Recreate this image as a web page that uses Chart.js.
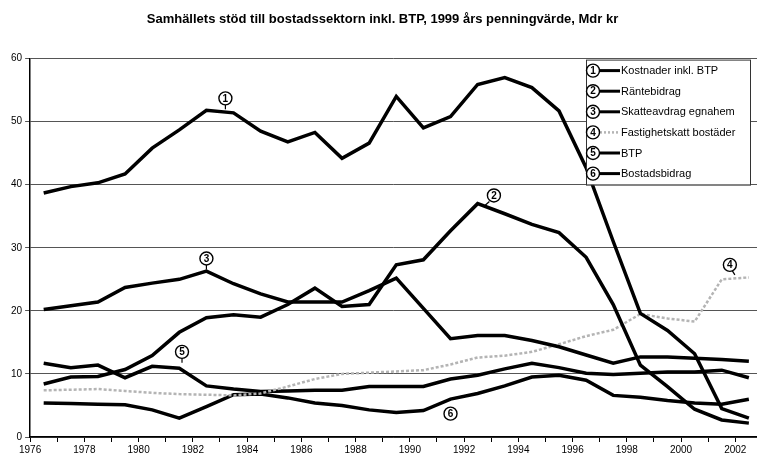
<!DOCTYPE html>
<html>
<head>
<meta charset="utf-8">
<script src="https://cdn.jsdelivr.net/npm/chart.js@4.4.1/dist/chart.umd.min.js"></script>
<style>
    html, body { margin: 0; padding: 0; background: #fff; }
    #wrap { width: 757px; height: 468px; }
</style>
</head>
<body>
<div id="wrap"><canvas id="chart" width="757" height="468"></canvas></div>
<script>
// Samhällets stöd till bostadssektorn
const years = [1976, 1977, 1978, 1979, 1980, 1981, 1982, 1983, 1984, 1985, 1986, 1987, 1988, 1989,
               1990, 1991, 1992, 1993, 1994, 1995, 1996, 1997, 1998, 1999, 2000, 2001, 2002];

const kostnader = [38.7, 39.7, 40.3, 41.7, 45.8, 48.7, 51.8, 51.4, 48.5, 46.8, 48.3, 44.2, 46.6, 54.0,
                   49.0, 50.8, 55.9, 57.0, 55.4, 51.7, 42.7, 31.0, 19.6, 16.9, 13.2, 4.5, 3.0];
const rantebidrag = [8.4, 9.5, 9.6, 10.7, 12.9, 16.6, 18.9, 19.4, 19.0, 21.0, 23.6, 20.7, 21.0, 27.3,
                     28.1, 32.7, 37.0, 35.4, 33.7, 32.4, 28.5, 21.0, 11.4, 8.0, 4.4, 2.7, 2.2];
const skatteavdrag = [20.2, 20.8, 21.4, 23.7, 24.4, 25.0, 26.3, 24.3, 22.7, 21.4, 21.4, 21.4, 23.2, 25.2,
                      20.4, 15.6, 16.1, 16.1, 15.3, 14.3, 13.0, 11.7, 12.7, 12.7, 12.5, 12.3, 12.0];
const fastighetsskatt = [7.4, 7.5, 7.6, 7.3, 7.0, 6.8, 6.7, 6.6, 6.9, 8.0, 9.2, 10.0, 10.2, 10.4,
                         10.6, 11.5, 12.6, 12.9, 13.5, 14.7, 16.0, 17.0, 19.5, 18.8, 18.3, 25.0, 25.3];
const btp = [11.7, 11.0, 11.4, 9.4, 11.2, 10.9, 8.1, 7.6, 7.2, 7.3, 7.4, 7.4, 8.0, 8.0,
             8.0, 9.2, 9.8, 10.8, 11.7, 11.0, 10.1, 9.9, 10.1, 10.3, 10.3, 10.6, 9.4];
const bostadsbidrag = [5.4, 5.3, 5.2, 5.1, 4.3, 3.0, 4.8, 6.7, 6.8, 6.2, 5.4, 5.0, 4.3, 3.9,
                       4.2, 6.0, 6.9, 8.1, 9.5, 9.8, 9.0, 6.6, 6.3, 5.8, 5.4, 5.2, 6.0];

const seriesNames = ['Kostnader inkl. BTP', 'Räntebidrag', 'Skatteavdrag egnahem',
                     'Fastighetskatt bostäder', 'BTP', 'Bostadsbidrag'];
const seriesNumbers = ['1', '2', '3', '4', '5', '6'];

const FONT = "'Liberation Sans', Arial, sans-serif";

// points sit in the middle of each year, like the Excel original
function toPoints(vals) {
    return years.map((yr, i) => ({ x: yr + 0.5, y: vals[i] }));
}

function circledNumber(ctx, n, x, y, r) {
    ctx.save();
    ctx.beginPath();
    ctx.arc(x, y, r, 0, Math.PI * 2);
    ctx.fillStyle = '#fff';
    ctx.fill();
    ctx.lineWidth = 1.4;
    ctx.strokeStyle = '#000';
    ctx.stroke();
    ctx.fillStyle = '#000';
    ctx.font = 'bold 10px ' + FONT;
    ctx.textAlign = 'center';
    ctx.textBaseline = 'middle';
    ctx.fillText(n, x, y + 0.5);
    ctx.restore();
}

// hand-written labels on the curves: centre in data units, stem end in px offset
const curveMarks = [
    { n: '1', x: 1983.2, y: 53.7, sx: 0, sy: 11 },
    { n: '2', x: 1993.1, y: 38.3, sx: -9, sy: 10 },
    { n: '3', x: 1982.5, y: 28.3, sx: 0, sy: 11 },
    { n: '4', x: 2001.8, y: 27.3, sx: 5, sy: 10 },
    { n: '5', x: 1981.6, y: 13.5, sx: 0, sy: 11 },
    { n: '6', x: 1991.5, y: 3.7, sx: 0, sy: 0 }
];

const marksPlugin = {
    id: 'marks',
    afterDatasetsDraw(chart) {
        const ctx = chart.ctx;
        const xs = chart.scales.x, ys = chart.scales.y;
        curveMarks.forEach(m => {
            const px = xs.getPixelForValue(m.x);
            const py = ys.getPixelForValue(m.y);
            if (m.sy) {
                ctx.save();
                ctx.strokeStyle = '#000';
                ctx.lineWidth = 1.2;
                ctx.beginPath();
                ctx.moveTo(px + m.sx * 0.5, py + 6);
                ctx.lineTo(px + m.sx, py + m.sy);
                ctx.stroke();
                ctx.restore();
            }
            circledNumber(ctx, m.n, px, py, 6.5);
        });
    }
};

// legend box in the top right corner of the plot
const legendPlugin = {
    id: 'boxLegend',
    afterDraw(chart) {
        const ctx = chart.ctx;
        const area = chart.chartArea;
        const w = 164, h = 125;
        const left = area.right - w - 7;
        const top = area.top + 1;
        ctx.save();
        ctx.fillStyle = '#fff';
        ctx.fillRect(left, top, w, h);
        ctx.strokeStyle = '#333';
        ctx.lineWidth = 1;
        ctx.strokeRect(left + 0.5, top + 0.5, w, h);

        chart.data.datasets.forEach((ds, i) => {
            const y = top + 11 + i * 20.6;
            ctx.beginPath();
            ctx.strokeStyle = ds.borderColor;
            ctx.lineWidth = i === 3 ? 2.5 : 3;
            ctx.setLineDash(i === 3 ? [2, 2] : []);
            ctx.moveTo(left + 10, y);
            ctx.lineTo(left + 34, y);
            ctx.stroke();
            ctx.setLineDash([]);
            circledNumber(ctx, seriesNumbers[i], left + 7, y, 6.5);
            ctx.fillStyle = '#000';
            ctx.font = '11px ' + FONT;
            ctx.textAlign = 'left';
            ctx.textBaseline = 'middle';
            ctx.fillText(ds.label, left + 35, y + 0.5);
        });
        ctx.restore();
    }
};

const allSeries = [kostnader, rantebidrag, skatteavdrag, fastighetsskatt, btp, bostadsbidrag];

const datasets = allSeries.map((vals, i) => ({
    label: seriesNames[i],
    data: toPoints(vals),
    borderColor: i === 3 ? '#b4b4b4' : '#000',
    borderWidth: i === 3 ? 2.5 : 3.5,
    borderDash: i === 3 ? [3, 2] : [],
    pointRadius: 0,
    tension: 0,
    fill: false
}));

const ctx = document.getElementById('chart').getContext('2d');
const chart = new Chart(ctx, {
    type: 'line',
    data: { datasets: datasets },
    options: {
        responsive: false,
        animation: false,
        layout: { padding: { left: 8, right: 0, top: 0, bottom: 10 } },
        plugins: {
            legend: { display: false },
            tooltip: { enabled: false },
            title: {
                display: true,
                text: 'Samhällets stöd till bostadssektorn inkl. BTP, 1999 års penningvärde, Mdr kr',
                color: '#000',
                font: { family: FONT, size: 13, weight: 'bold' },
                padding: { top: 12, bottom: 31 }
            }
        },
        scales: {
            x: {
                type: 'linear',
                min: 1976,
                max: 2002.8,
                afterBuildTicks: scale => {
                    scale.ticks = years.map(v => ({ value: v }));
                },
                ticks: {
                    autoSkip: false,
                    maxRotation: 0,
                    color: '#000',
                    padding: 2,
                    font: { family: FONT, size: 10 },
                    callback: v => (v % 2 === 0 ? String(v) : '')
                },
                grid: { drawOnChartArea: false, drawTicks: true, tickLength: 5, color: '#000' },
                border: { color: '#000', width: 1.5 }
            },
            y: {
                min: 0,
                max: 60,
                ticks: {
                    stepSize: 10,
                    color: '#000',
                    padding: 3,
                    font: { family: FONT, size: 10 }
                },
                grid: { color: '#555', lineWidth: 1, tickLength: 5 },
                border: { color: '#000', width: 1.5 }
            }
        }
    },
    plugins: [marksPlugin, legendPlugin]
});
</script>
</body>
</html>
